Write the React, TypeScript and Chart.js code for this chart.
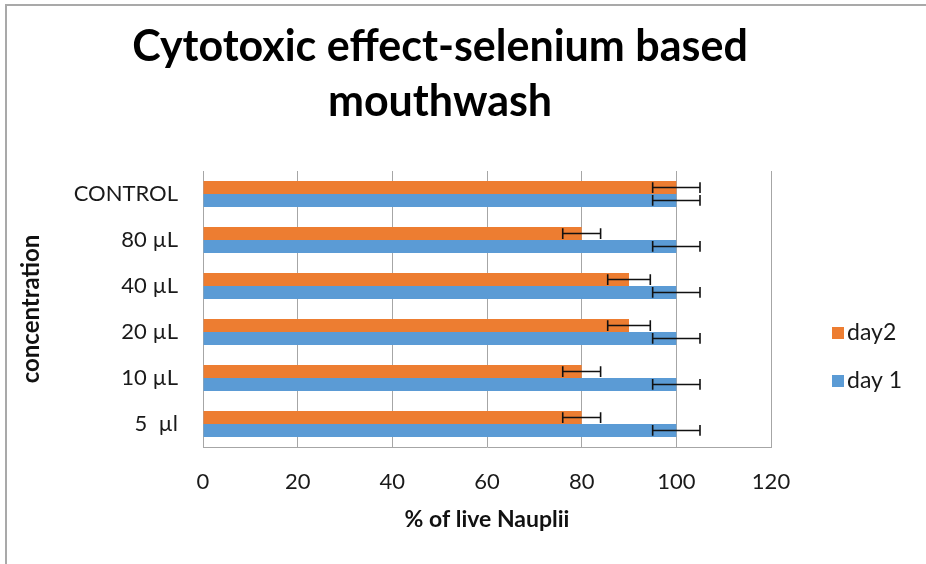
import React, { useEffect, useRef } from "react";
import { Chart, registerables } from "chart.js";

Chart.register(...registerables);

const categories = ["CONTROL", "80 µL", "40 µL", "20 µL", "10 µL", "5  µl"];
const day2Values = [100, 80, 90, 90, 80, 80];
const day2Errors = [5, 4, 4.5, 4.5, 4, 4];
const day1Values = [100, 100, 100, 100, 100, 100];
const day1Errors = [5, 5, 5, 5, 5, 5];
const xMin = 0;
const xMax = 120;
const xStep = 20;
const titleLines = ["Cytotoxic effect-selenium based", "mouthwash"];
const xTitle = "% of live Nauplii";
const yTitle = "concentration";
const seriesLabels = ["day2", "day 1"];
const seriesColors = ["#ED7D31", "#5B9BD5"];

const FONT = "Lato, 'Open Sans', sans-serif";

const errorBarPlugin = {
  id: "errorBars",
  afterDatasetsDraw(chart: any) {
    const ctx = chart.ctx;
    const xs = chart.scales.x;
    chart.data.datasets.forEach((ds: any, di: number) => {
      const meta = chart.getDatasetMeta(di);
      const errs: number[] = ds.errors || [];
      meta.data.forEach((bar: any, i: number) => {
        const v = ds.data[i];
        const e = errs[i] || 0;
        const x1 = xs.getPixelForValue(v - e);
        const x2 = xs.getPixelForValue(v + e);
        const y = bar.y;
        const h = bar.height * 0.42;
        ctx.save();
        ctx.strokeStyle = "#111111";
        ctx.lineWidth = 1.6;
        ctx.beginPath();
        ctx.moveTo(x1, y);
        ctx.lineTo(x2, y);
        ctx.moveTo(x1, y - h);
        ctx.lineTo(x1, y + h);
        ctx.moveTo(x2, y - h);
        ctx.lineTo(x2, y + h);
        ctx.stroke();
        ctx.restore();
      });
    });
  },
};

const framePlugin = {
  id: "frame",
  beforeDraw(chart: any) {
    const ctx = chart.ctx;
    ctx.save();
    ctx.fillStyle = "#ffffff";
    ctx.fillRect(0, 0, chart.width, chart.height);
    ctx.fillStyle = "#a9a9a9";
    ctx.fillRect(5, 4, chart.width - 5, 2);
    ctx.fillRect(5, 4, 2, chart.height - 4);
    ctx.restore();
  },
};

const titlePlugin = {
  id: "sideTitle",
  afterDraw(chart: any) {
    const ctx = chart.ctx;
    ctx.save();
    ctx.fillStyle = "#000000";
    ctx.font = `bold 43px ${FONT}`;
    ctx.textAlign = "center";
    ctx.textBaseline = "alphabetic";
    const cx = 440;
    titleLines.forEach((t, i) => {
      ctx.fillText(t, cx, 61 + i * 55);
    });
    ctx.restore();
  },
};

const legendPlugin = {
  id: "sideLegend",
  afterDraw(chart: any) {
    const ctx = chart.ctx;
    const x0 = chart.chartArea.right + 61;
    const ys = [333, 381];
    ctx.save();
    chart.data.datasets.forEach((ds: any, i: number) => {
      const y = ys[i];
      ctx.fillStyle = ds.backgroundColor;
      ctx.fillRect(x0, y - 6, 12, 12);
      ctx.fillStyle = "#1a1a1a";
      ctx.font = `23px ${FONT}`;
      ctx.textBaseline = "middle";
      ctx.textAlign = "left";
      ctx.fillText(ds.label, x0 + 15, y);
    });
    ctx.restore();
  },
};

export default function App() {
  const ref = useRef<HTMLCanvasElement | null>(null);
  useEffect(() => {
    if (!ref.current) return;
    const chart = new Chart(ref.current, {
      type: "bar",
      data: {
        labels: categories,
        datasets: [
          {
            label: seriesLabels[0],
            data: day2Values,
            errors: day2Errors,
            backgroundColor: seriesColors[0],
            borderWidth: 0,
          } as any,
          {
            label: seriesLabels[1],
            data: day1Values,
            errors: day1Errors,
            backgroundColor: seriesColors[1],
            borderWidth: 0,
          } as any,
        ],
      },
      options: {
        indexAxis: "y",
        responsive: false,
        animation: false,
        datasets: { bar: { categoryPercentage: 0.56, barPercentage: 1.0 } },
        layout: { padding: { left: 0, right: 155, top: 171, bottom: 0 } },
        plugins: {
          legend: { display: false },
          tooltip: { enabled: false },
          title: { display: false },
        },
        scales: {
          x: {
            type: "linear",
            min: xMin,
            max: xMax,
            ticks: {
              stepSize: xStep,
              color: "#1a1a1a",
              font: { family: FONT, size: 22 },
              padding: 22,
            },
            grid: { color: "#a6a6a6", drawTicks: false, lineWidth: 1 },
            border: { display: true, color: "#a6a6a6" },
            title: {
              display: true,
              text: xTitle,
              color: "#111111",
              font: { family: FONT, size: 23, weight: "bold" },
              padding: { top: 16, bottom: 31 },
            },
            afterFit(s: any) {
              s.height = 117;
            },
          },
          y: {
            grid: { display: false, drawTicks: false },
            border: { display: true, color: "#a6a6a6" },
            ticks: {
              color: "#1a1a1a",
              font: { family: FONT, size: 22 },
              padding: 25,
            },
            title: {
              display: true,
              text: yTitle,
              color: "#111111",
              font: { family: FONT, size: 24, weight: "bold" },
              padding: { top: 17, bottom: 0 },
            },
            afterFit(s: any) {
              s.width = 203;
            },
          },
        },
      },
      plugins: [framePlugin, errorBarPlugin, titlePlugin, legendPlugin],
    });
    return () => chart.destroy();
  }, []);
  return (
    <div style={{ position: "absolute", left: 0, top: 0, width: 926, height: 564 }}>
      <canvas ref={ref} width={926} height={564} style={{ display: "block" }} />
    </div>
  );
}
